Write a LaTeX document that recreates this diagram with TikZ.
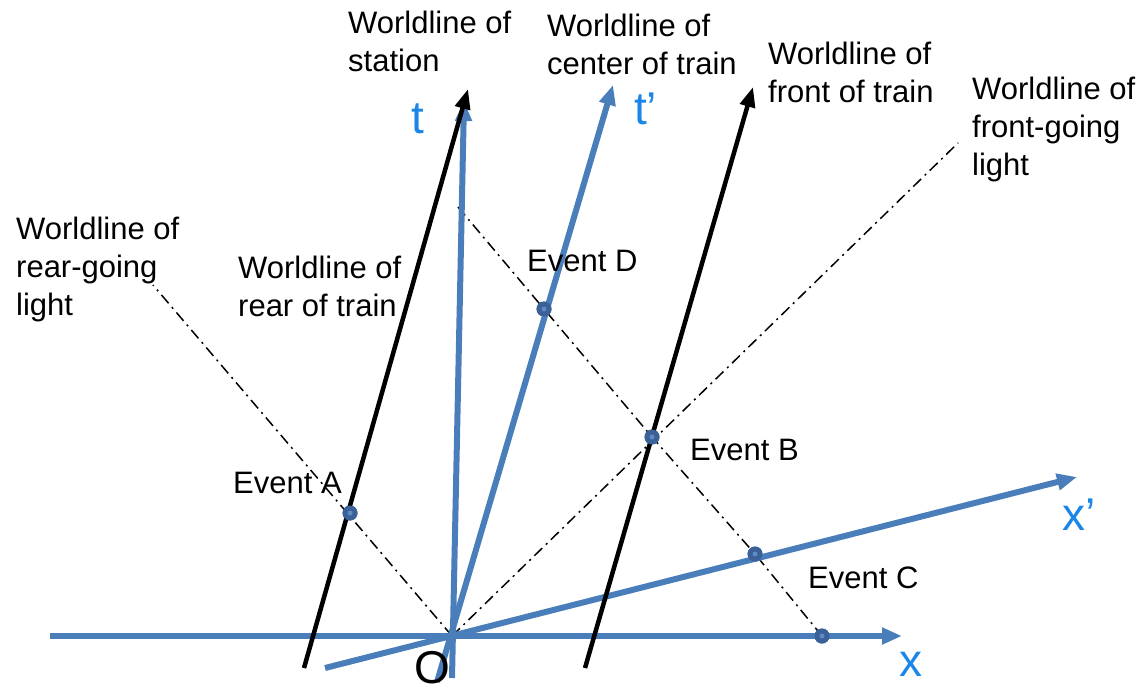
\documentclass[tikz,border=0pt]{standalone}
\usepackage{fontspec}
\setmainfont{Liberation Sans}
\usetikzlibrary{arrows.meta}
\definecolor{axisblue}{HTML}{4A7EBB}
\definecolor{labelblue}{HTML}{1A86E8}
\definecolor{dotblue}{HTML}{3B6198}
\definecolor{dotcenter}{HTML}{5F8BC4}
\tikzset{
  blueline/.style={draw=axisblue, line width=6pt},
  bluearrow/.style={blueline, -{Triangle[length=20pt,width=16pt]}},
  blackarrow/.style={draw=black, line width=4.5pt, -{Triangle[length=20pt,width=15pt]}},
  light/.style={draw=black, line width=1.5pt, dash pattern=on 11pt off 5pt on 2pt off 5pt},
  event/.style={circle, fill=dotblue, minimum size=15pt, inner sep=0pt},
  lbl/.style={font=\fontsize{31}{38}\selectfont, inner sep=0pt, align=left, anchor=north west},
  evlbl/.style={font=\fontsize{31}{38}\selectfont, inner sep=0pt, anchor=base west},
  axlbl/.style={font=\fontsize{46}{50}\selectfont, text=labelblue, inner sep=0pt, anchor=base west},
}
\begin{document}
\begin{tikzpicture}[x=1pt,y=-1pt]
\useasboundingbox (0,0) rectangle (1146,683);
% coordinates
\coordinate (O) at (452,636);
\coordinate (xs) at (50,636);
\coordinate (xe) at (902,636);
\coordinate (xps) at (325,668);
\coordinate (xpe) at (1077,477);
\coordinate (ts) at (452,678);
\coordinate (te) at (464,101);
\coordinate (tps) at (437,682);
\coordinate (tpe) at (613,85);
\coordinate (rs) at (304,668);
\coordinate (re) at (468,89);
\coordinate (fs) at (585,668);
\coordinate (fe) at (753,87);
\coordinate (rl) at (153,285);
\coordinate (fl) at (958,143);
\coordinate (ds) at (458,207);
% event nodes
\node[event] (A) at (350,513) {};
\node[event] (B) at (652,437) {};
\node[event] (C) at (755,554) {};
\node[event] (D) at (544,309) {};
\node[event] (E) at (822,636) {};
% light worldlines
\draw[light] (O) -- (rl);
\draw[light] (O) -- (fl);
\draw[light] (ds) -- (D.center) -- (B.center) -- (C.center) -- (E.center);
% blue axes
\draw[bluearrow] (xs) -- (xe);
\draw[bluearrow] (xps) -- (xpe);
\draw[bluearrow] (ts) -- (te);
\draw[bluearrow] (tps) -- (tpe);
% black worldlines
\draw[blackarrow] (rs) -- (re);
\draw[blackarrow] (fs) -- (fe);
% dots on top
\foreach \n in {A,B,C,D,E}{
  \node[event] at (\n) {};
  \fill[dotcenter] (\n) circle (2.5pt);
}
% labels
\node[lbl] (Lst) at (348,11) {Worldline of\\station};
\node[lbl] (Lct) at (547,14) {Worldline of\\center of train};
\node[lbl] (Lft) at (768,42) {Worldline of\\front of train};
\node[lbl] (Lfl) at (972,77) {Worldline of\\front-going\\light};
\node[lbl] (Lrl) at (16,217) {Worldline of\\rear-going\\light};
\node[lbl] (Lrt) at (238,256) {Worldline of\\rear of train};
\node[evlbl] (LA) at (233,493) {Event A};
\node[evlbl] (LB) at (690,460) {Event B};
\node[evlbl] (LC) at (808,588) {Event C};
\node[evlbl] (LD) at (527,271) {Event D};
\node[axlbl] (Lt) at (411,133) {t};
\node[axlbl] (Ltp) at (634,124) {t’};
\node[axlbl] (Lx) at (899,676) {x};
\node[axlbl] (Lxp) at (1062,530) {x’};
\node[axlbl, text=black] (LO) at (414,683) {O};
\end{tikzpicture}
\end{document}
